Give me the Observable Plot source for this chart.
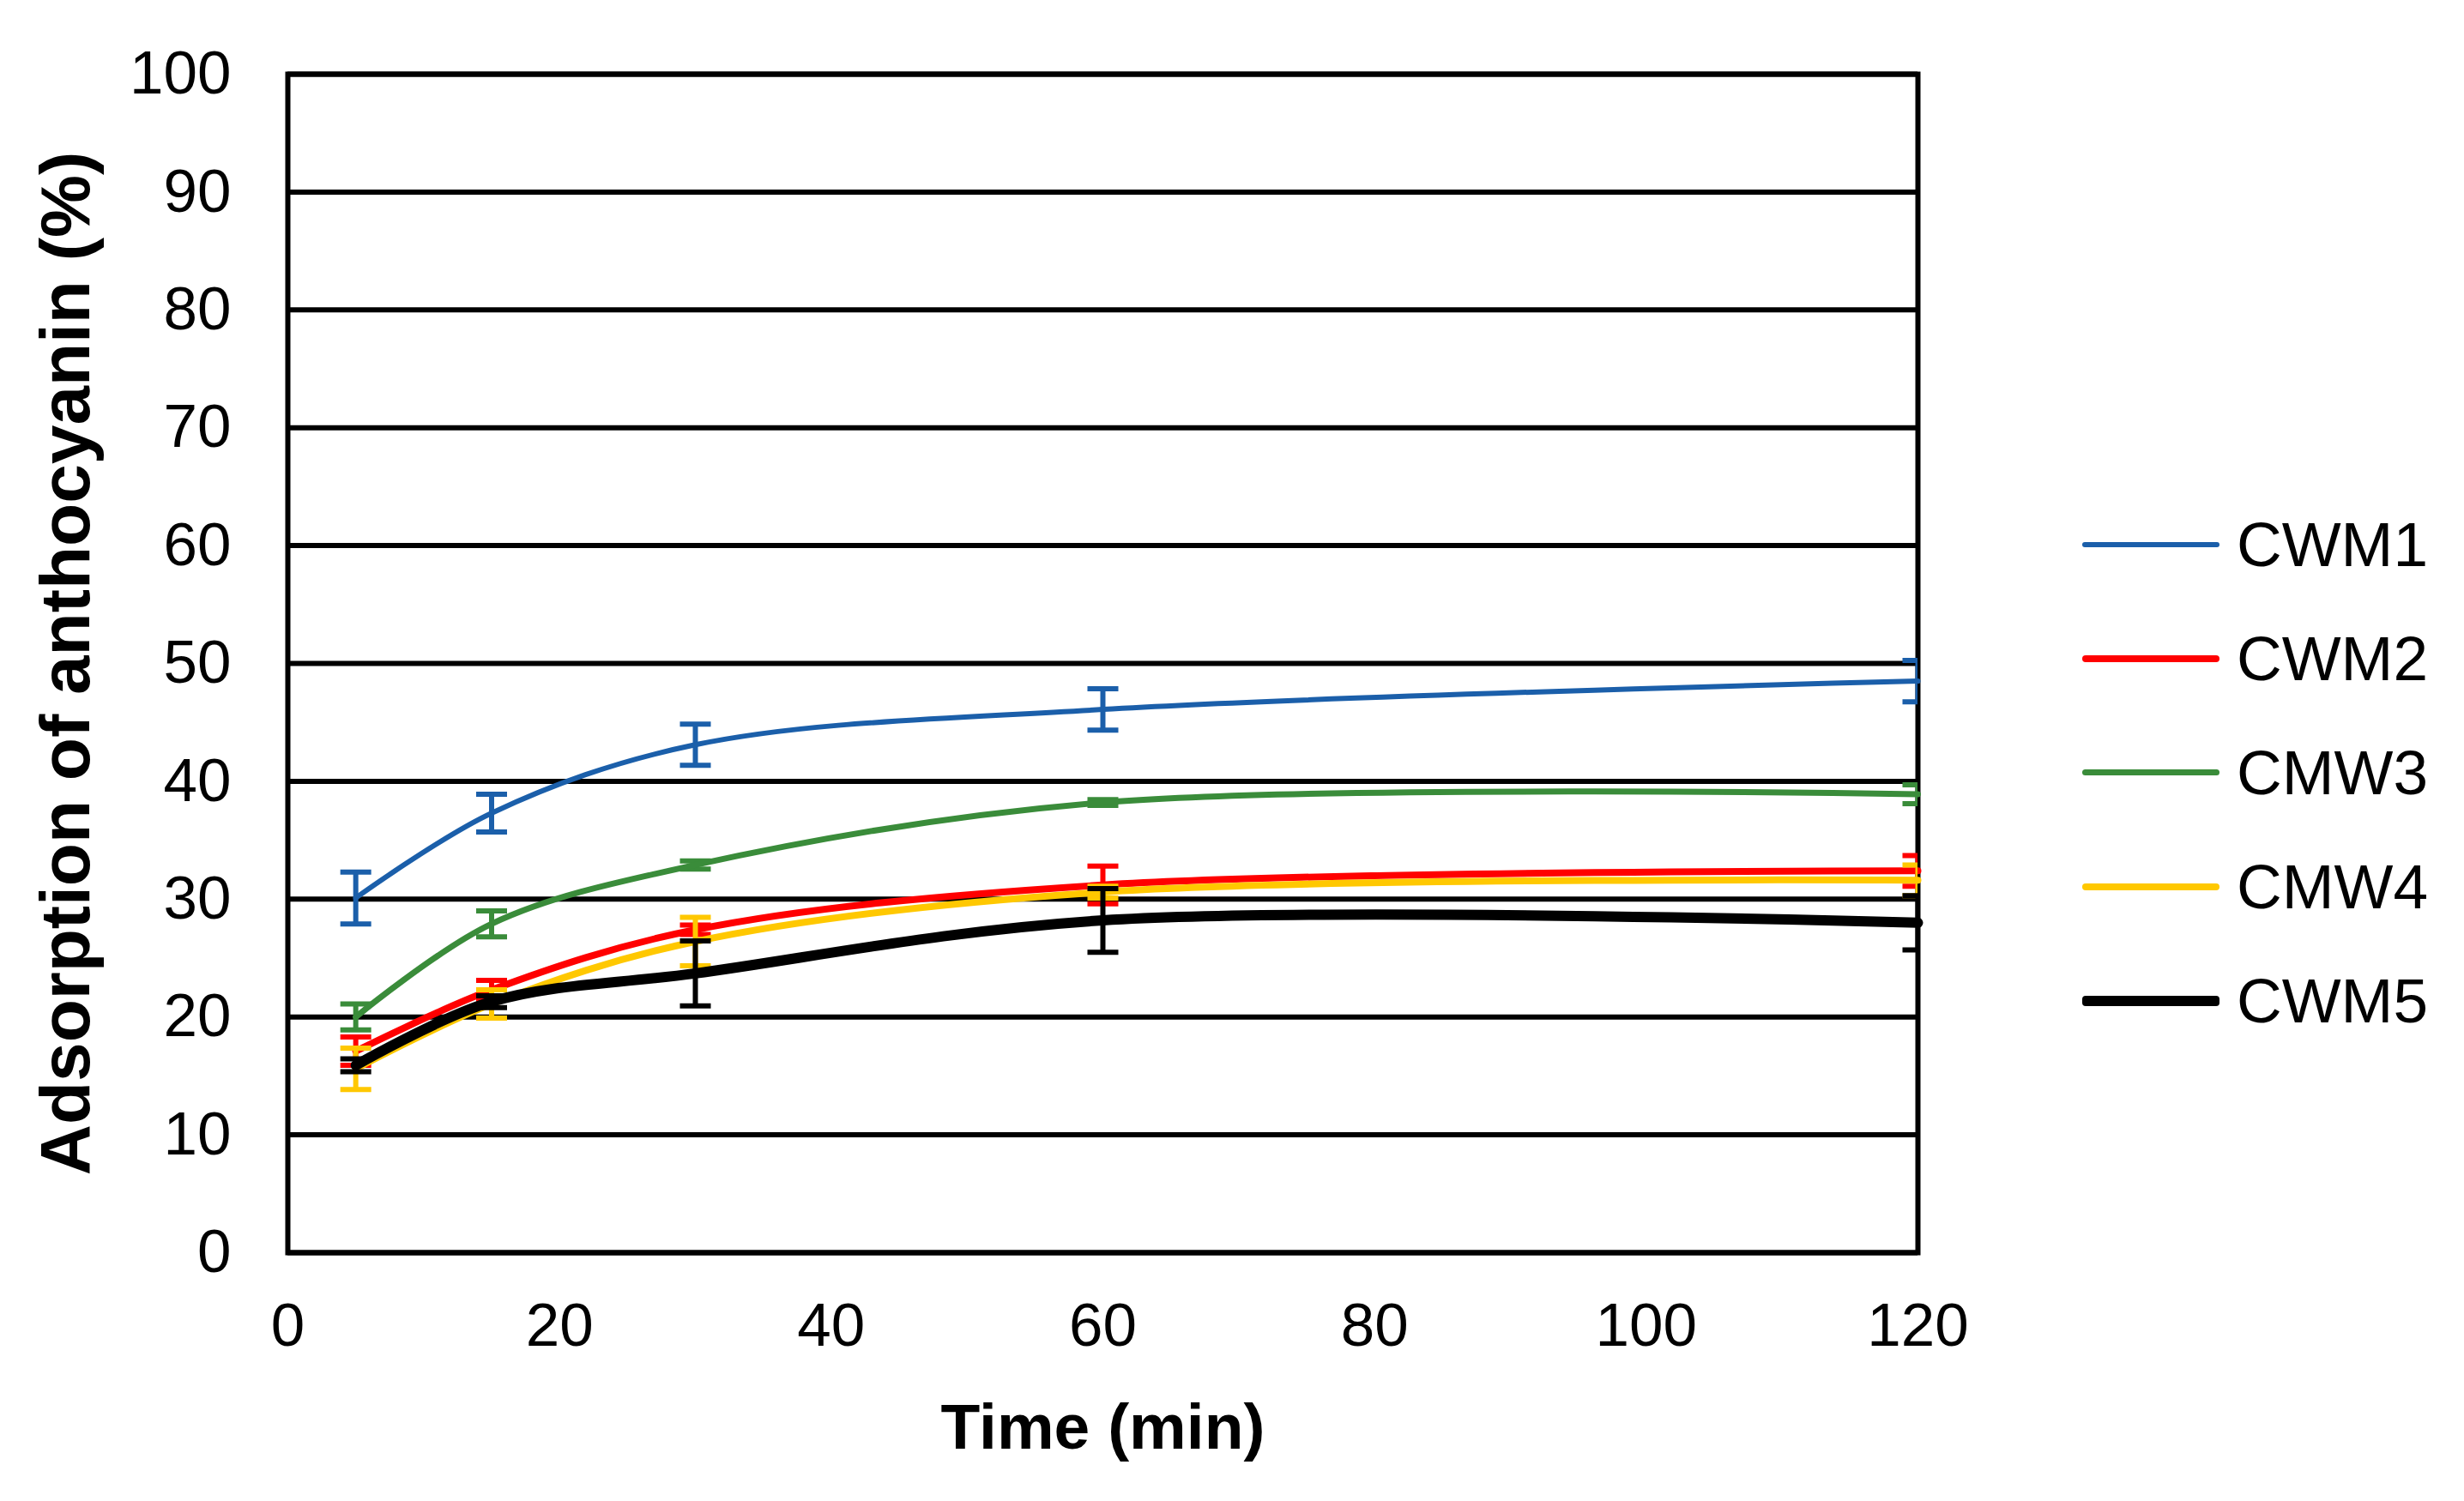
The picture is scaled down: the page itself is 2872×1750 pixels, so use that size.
<!DOCTYPE html>
<html>
<head>
<meta charset="utf-8">
<script src="https://cdn.jsdelivr.net/npm/d3@7"></script>
<script src="https://cdn.jsdelivr.net/npm/@observablehq/plot@0.6"></script>
<style>
  html, body { margin: 0; padding: 0; background: #fff; }
  #wrap { position: relative; width: 2872px; height: 1750px; font-family: "Liberation Sans", Arial, sans-serif; }
  #legend { position: absolute; left: 2427px; top: 568px; }
  .item { display: flex; align-items: center; height: 133px; }
  .swatch { width: 160px; border-radius: 4px; }
  .lab { margin-left: 20px; font-size: 73px; color: #000; line-height: 1; }
</style>
</head>
<body>
<div id="wrap"><div id="legend"></div></div>
<script>
// ---- data ----
const times = [5, 15, 30, 60, 120];
const seriesNames = ["CWM1", "CWM2", "CMW3", "CMW4", "CWM5"];
const cwm1 = [30.1, 37.3, 43.1, 46.1, 48.5];
const cwm1Err = [2.2, 1.6, 1.75, 1.75, 1.75];
const cwm2 = [17.1, 22.3, 27.4, 31.2, 32.4];
const cwm2Err = [1.2, 0.8, 0.4, 1.6, 1.3];
const cmw3 = [20.0, 27.9, 32.9, 38.2, 38.9];
const cmw3Err = [1.1, 1.1, 0.35, 0.25, 0.8];
const cmw4 = [15.6, 21.1, 26.4, 30.6, 31.6];
const cmw4Err = [1.75, 1.2, 2.05, 0.5, 1.3];
const cwm5 = [15.9, 21.3, 23.7, 28.2, 28.0];
const cwm5Err = [0.55, 0.5, 2.75, 2.7, 2.3];
const xTicks = [0, 20, 40, 60, 80, 100, 120];
const yTicks = [0, 10, 20, 30, 40, 50, 60, 70, 80, 90, 100];

// ---- styles ----
const colors = ["#1b5faa", "#ff0000", "#3a8c3a", "#ffc800", "#000000"];
const widths = [6, 8, 7, 8, 12];

const values = [cwm1, cwm2, cmw3, cmw4, cwm5];
const errs = [cwm1Err, cwm2Err, cmw3Err, cmw4Err, cwm5Err];

const capSymbol = {
  draw(ctx, size) {
    const r = Math.sqrt(size / Math.PI);
    ctx.moveTo(-r, 0);
    ctx.lineTo(r, 0);
  }
};

const font = "Liberation Sans, Arial, sans-serif";
const marks = [
  Plot.ruleY(yTicks, {stroke: "#000", strokeWidth: 6}),
  Plot.frame({stroke: "#000", strokeWidth: 6})
];

seriesNames.forEach((name, i) => {
  const rows = times.map((t, j) => ({
    series: name, t, v: values[i][j],
    lo: values[i][j] - errs[i][j], hi: values[i][j] + errs[i][j]
  }));
  marks.push(
    Plot.ruleX(rows, {x: "t", y1: "lo", y2: "hi", stroke: colors[i], strokeWidth: 6, clip: true}),
    Plot.dot(rows, {x: "t", y: "lo", symbol: capSymbol, r: 18, stroke: colors[i], fill: "none", strokeWidth: 6, clip: true}),
    Plot.dot(rows, {x: "t", y: "hi", symbol: capSymbol, r: 18, stroke: colors[i], fill: "none", strokeWidth: 6, clip: true}),
    Plot.line(rows, {x: "t", y: "v", stroke: colors[i], strokeWidth: widths[i], curve: "catmull-rom"})
  );
});

marks.push(
  Plot.axisY(yTicks, {tickSize: 0, tickPadding: 66, fontSize: 71, fontFamily: font, label: null}),
  Plot.axisX(xTicks, {tickSize: 0, tickPadding: 58, fontSize: 71, fontFamily: font, label: null}),
  Plot.text(["Adsorption of anthocyanin (%)"], {frameAnchor: "left", dx: -258, rotate: -90, textAnchor: "middle", lineAnchor: "middle", fontSize: 82, fontWeight: "bold", fontFamily: font}),
  Plot.text(["Time (min)"], {frameAnchor: "bottom", dy: 204, textAnchor: "middle", lineAnchor: "middle", fontSize: 75, fontWeight: "bold", fontFamily: font})
);

const chart = Plot.plot({
  width: 2872,
  height: 1750,
  marginLeft: 335,
  marginRight: 637,
  marginTop: 86,
  marginBottom: 290,
  x: {domain: [0, 120]},
  y: {domain: [0, 100]},
  style: {fontFamily: font, background: "#fff", color: "#000", overflow: "visible"},
  marks
});
document.getElementById("wrap").prepend(chart);

// ---- legend ----
const legend = d3.select("#legend");
seriesNames.forEach((name, i) => {
  const item = legend.append("div").attr("class", "item");
  item.append("div").attr("class", "swatch")
    .style("height", widths[i] + "px").style("background", colors[i]);
  item.append("span").attr("class", "lab").text(name);
});
</script>
</body>
</html>
